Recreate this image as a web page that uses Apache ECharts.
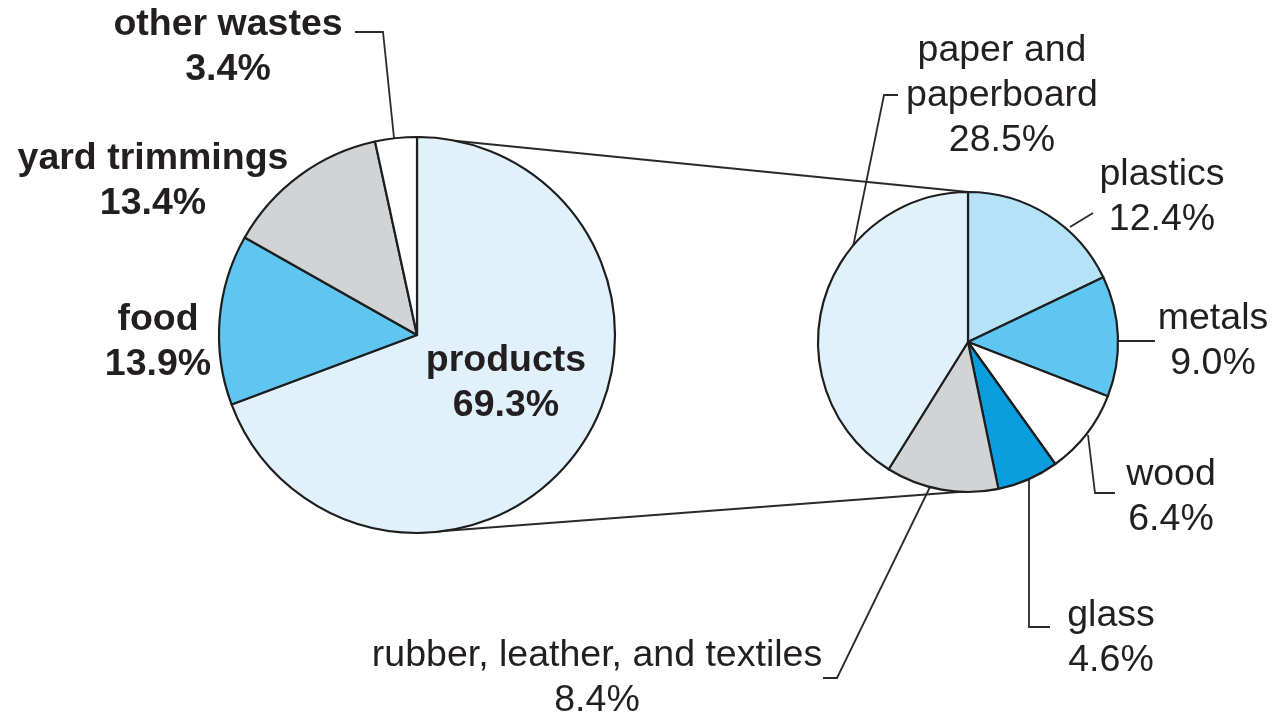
<!DOCTYPE html>
<html>
<head>
<meta charset="utf-8">
<title>Municipal solid waste generation</title>
<script src="https://cdn.jsdelivr.net/npm/echarts@6.0.0/dist/echarts.min.js"></script>
<style>
  html, body { margin: 0; padding: 0; background: #ffffff; }
  #chart { width: 1275px; height: 713px; }
</style>
</head>
<body>
<div id="chart"></div>
<script>
// Total waste stream, clockwise from 12 o'clock
const wasteNames = ['products', 'food', 'yard trimmings', 'other wastes'];
const wasteShares = [69.3, 13.9, 13.4, 3.4];

// Breakdown of the "products" share, clockwise from 12 o'clock
const productNames = ['plastics', 'metals', 'wood', 'glass', 'rubber, leather, and textiles', 'paper and\npaperboard'];
const productShares = [12.4, 9.0, 6.4, 4.6, 8.4, 28.5];

// Fill colours
const wasteColors = ['#e0f1fb', '#5ec6f0', '#d2d3d5', '#ffffff'];
const productColors = ['#b6e2f7', '#5ec6f0', '#ffffff', '#0a9ede', '#d2d3d5', '#e0f1fb'];

// Pie geometry (px)
const leftPie = { cx: 417, cy: 335, r: 198 };
const rightPie = { cx: 968, cy: 342, r: 150 };

// Label placement: block centre and leader-line path
const wasteLabelLayout = [
  { x: 506, y: 383, line: null },
  { x: 158, y: 342, line: null },
  { x: 153, y: 181, line: null },
  { x: 228, y: 47, line: [[394, 138], [383, 32], [355, 32]] }
];
const productLabelLayout = [
  { x: 1162, y: 197, line: [[1070, 227], [1093, 213]] },
  { x: 1213, y: 341, line: [[1118, 341], [1155, 341]] },
  { x: 1171, y: 497, line: [[1088, 435], [1095, 493], [1115, 493]] },
  { x: 1111, y: 638, line: [[1029, 480], [1029, 627], [1050, 627]] },
  { x: 597, y: 678, line: [[930, 487], [837, 678], [823, 678]] },
  { x: 1002, y: 96, line: [[853, 247], [884, 95], [898, 95]] }
];

const FONT = '"Liberation Sans", Arial, Helvetica, sans-serif';
const FONT_SIZE = 37.5;
const TEXT_COLOR = '#231f20';
const EDGE = '#1e1e1e';

function pointAt(pie, angleFromTopDeg) {
  const a = angleFromTopDeg * Math.PI / 180;
  return [pie.cx + pie.r * Math.sin(a), pie.cy - pie.r * Math.cos(a)];
}

function sum(arr) { return arr.reduce((s, v) => s + v, 0); }

function buildData(names, values, colors, layout) {
  return names.map((n, i) => ({
    name: n,
    value: values[i],
    itemStyle: { color: colors[i] },
    labelLine: { show: !!layout[i].line }
  }));
}

function makeLayout(layout) {
  return function (params) {
    const cfg = layout[params.dataIndex];
    const out = { x: cfg.x, y: cfg.y, align: 'center', verticalAlign: 'middle' };
    if (cfg.line) out.labelLinePoints = cfg.line;
    return out;
  };
}

function labelText(p) {
  return p.name + '\n' + Number(p.value).toFixed(1) + '%';
}

// Connectors between the "products" wedge and the breakdown pie
const productTotal = sum(productShares);
const upperStart = [leftPie.cx, leftPie.cy - leftPie.r];
const upperEnd = pointAt(rightPie, 0);
const lowerStart = [leftPie.cx, leftPie.cy + leftPie.r];
const glassEndAngle = sum(productShares.slice(0, 4)) / productTotal * 360;
const lowerEnd = pointAt(rightPie, glassEndAngle);

const chart = echarts.init(document.getElementById('chart'), null, { renderer: 'canvas' });

const commonSeries = {
  type: 'pie',
  startAngle: 90,
  clockwise: true,
  avoidLabelOverlap: false,
  animation: false,
  silent: true,
  emphasis: { disabled: true },
  itemStyle: { borderColor: EDGE, borderWidth: 2.2 },
  labelLine: {
    show: true,
    smooth: false,
    lineStyle: { color: '#2a2a2a', width: 1.8 }
  }
};

chart.setOption({
  backgroundColor: '#ffffff',
  animation: false,
  graphic: [
    {
      type: 'line', z: 0, silent: true,
      shape: { x1: upperStart[0], y1: upperStart[1], x2: upperEnd[0], y2: upperEnd[1] },
      style: { stroke: '#2a2a2a', lineWidth: 2 }
    },
    {
      type: 'line', z: 0, silent: true,
      shape: { x1: lowerStart[0], y1: lowerStart[1], x2: lowerEnd[0], y2: lowerEnd[1] },
      style: { stroke: '#2a2a2a', lineWidth: 2 }
    }
  ],
  series: [
    Object.assign({}, commonSeries, {
      name: 'waste',
      center: [leftPie.cx, leftPie.cy],
      radius: leftPie.r,
      data: buildData(wasteNames, wasteShares, wasteColors, wasteLabelLayout),
      label: {
        show: true,
        position: 'outside',
        formatter: labelText,
        fontFamily: FONT,
        fontSize: FONT_SIZE,
        fontWeight: 'bold',
        lineHeight: 45,
        color: TEXT_COLOR,
        align: 'center'
      },
      labelLayout: makeLayout(wasteLabelLayout)
    }),
    Object.assign({}, commonSeries, {
      name: 'products',
      center: [rightPie.cx, rightPie.cy],
      radius: rightPie.r,
      data: buildData(productNames, productShares, productColors, productLabelLayout),
      label: {
        show: true,
        position: 'outside',
        formatter: labelText,
        fontFamily: FONT,
        fontSize: FONT_SIZE,
        fontWeight: 'normal',
        lineHeight: 45,
        color: TEXT_COLOR,
        align: 'center'
      },
      labelLayout: makeLayout(productLabelLayout)
    })
  ]
});
</script>
</body>
</html>
